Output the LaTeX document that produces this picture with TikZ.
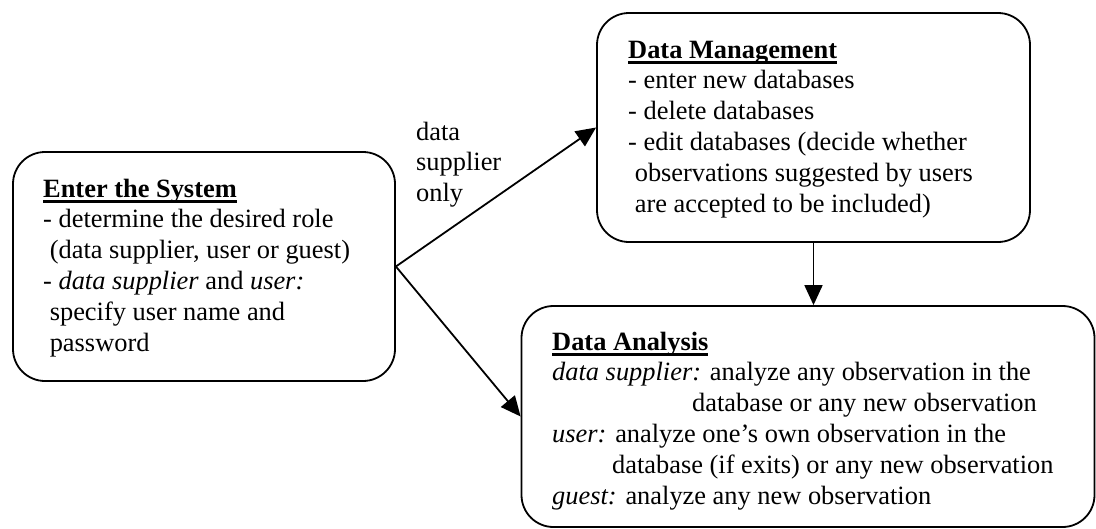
\documentclass[tikz,border=0pt]{standalone}
\usepackage{fontspec}
\setmainfont{Liberation Serif}
\usetikzlibrary{arrows.meta}
\newcommand{\myul}[1]{\leavevmode\setbox0\hbox{\bfseries #1}\rlap{\rule[-5.5pt]{\wd0}{2.4pt}}\box0}
\newcommand{\lsp}{\hspace*{6.6pt}}
\tikzset{
  box/.style={draw=black, line width=1.8pt, rounded corners=32pt, inner sep=0pt},
  txt/.style={anchor=base west, inner sep=0pt, font=\fontsize{26.4pt}{30.8pt}\selectfont},
  conn/.style={line width=1.8pt, -{Triangle[length=20pt,width=18pt]}}
}
\begin{document}
\begin{tikzpicture}[x=1pt,y=-1pt]
\useasboundingbox (0,0) rectangle (1096,528);
% boxes
\node[box, minimum width=382pt, minimum height=229pt] (b1) at (204,266.5) {};
\node[box, minimum width=433pt, minimum height=229pt] (b2) at (813.5,127.5) {};
\node[box, minimum width=573pt, minimum height=221pt] (b3) at (808,416.5) {};
% texts
\node[txt] (t1) at (43,197) {\parbox[t]{360pt}{\raggedright
\myul{Enter the System}\\
- determine the desired role\\
\lsp(data supplier, user or guest)\\
- \textit{data supplier} and \textit{user:}\\
\lsp specify user name and\\
\lsp password}};
\node[txt] (t2) at (628,58) {\parbox[t]{400pt}{\raggedright
\myul{Data Management}\\
- enter new databases\\
- delete databases\\
- edit databases (decide whether\\
\lsp observations suggested by users\\
\lsp are accepted to be included)}};
\node[txt] (t3) at (552,350) {\parbox[t]{540pt}{\raggedright
\myul{Data Analysis}\\
\textit{data supplier:} analyze any observation in the\\
\hspace*{140pt}database or any new observation\\
\textit{user:} analyze one’s own observation in the\\
\hspace*{60pt}database (if exits) or any new observation\\
\textit{guest:} analyze any new observation}};
\node[txt] (lab) at (416,140) {\parbox[t]{120pt}{\raggedright
data\\
supplier\\
only}};
% connectors
\draw[conn] (b1.east) -- (b2.west);
\draw[conn] (b1.east) -- (b3.west);
\draw[conn] (b2.south) -- (b2.south |- b3.north);
\end{tikzpicture}
\end{document}
